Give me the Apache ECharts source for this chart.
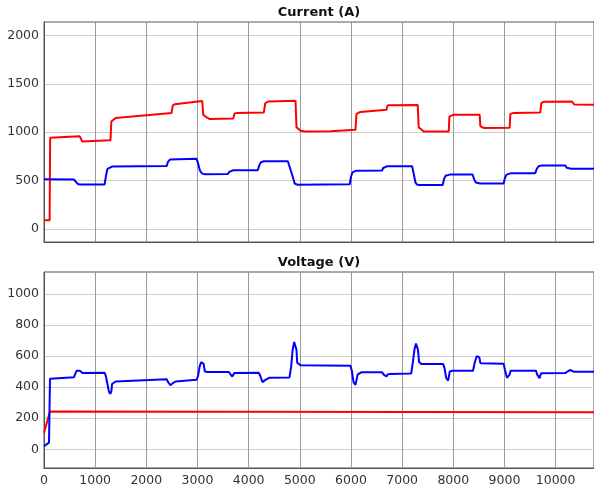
<!DOCTYPE html>
<html><head><meta charset="utf-8">
<script src="https://cdn.jsdelivr.net/npm/echarts@6/dist/echarts.min.js"></script>
<style>html,body{margin:0;padding:0;background:#fff}#c{width:594px;height:487px}</style>
</head><body><div id="c"></div>
<script>
const titles = ['Current (A)', 'Voltage (V)'];
const xTicks = [0,1000,2000,3000,4000,5000,6000,7000,8000,9000,10000];
const yTicksCurrent = [0,500,1000,1500,2000];
const yTicksVoltage = [0,200,400,600,800,1000];

// Current, red trace
const iRedT = [0,110,120,700,730,745,1300,1316,1340,1400,2494,2515,2560,3093,3113,3130,3190,3230,3699,3725,3780,4297,4324,4380,4916,4935,4950,5014,5100,5600,6088,6107,6185,6693,6718,6760,7304,7324,7340,7421,7910,7924,7996,8515,8529,8593,9101,9115,9180,9701,9720,9780,10320,10365,10750];
const iRedV = [90,90,942,958,952,905,917,1110,1130,1148,1200,1275,1290,1322,1180,1160,1150,1138,1142,1193,1200,1204,1300,1318,1325,1052,1040,1015,1008,1010,1025,1190,1210,1232,1279,1280,1282,1052,1040,1007,1008,1162,1180,1182,1062,1045,1047,1190,1200,1203,1304,1315,1318,1286,1284];
// Current, blue trace
const iBlueT = [0,586,620,660,700,1185,1215,1240,1270,1330,2397,2420,2461,2500,2982,3010,3050,3093,3150,3594,3620,3646,3700,4179,4210,4240,4265,4300,4766,4800,4850,4900,4950,5437,5976,6000,6030,6054,6100,6609,6630,6654,6700,7195,7230,7260,7293,7350,7792,7820,7850,7878,7930,8378,8410,8440,8464,8520,8984,9010,9040,9070,9120,9603,9630,9667,9720,10189,10220,10253,10300,10750];
const iBlueV = [515,512,490,465,460,460,560,620,635,645,650,690,717,722,725,680,600,572,566,568,590,603,607,608,660,690,697,700,700,680,560,470,458,460,462,540,585,596,603,605,630,645,648,648,560,480,458,455,455,520,550,558,562,562,510,480,472,470,470,530,562,570,575,577,620,648,655,655,632,623,622,622];

// Voltage, red trace
const vRedT = [0,117,10750];
const vRedV = [106,244,238];
// Voltage, blue trace
const vBlueT = [0,98,110,117,586,610,640,670,700,720,760,1185,1210,1240,1270,1300,1320,1330,1345,1400,2397,2430,2470,2500,2530,2572,2982,3010,3040,3070,3105,3120,3144,3200,3613,3640,3679,3700,3720,4199,4230,4270,4297,4320,4340,4400,4798,4830,4860,4890,4916,4935,4949,4980,5020,5990,6020,6050,6088,6110,6130,6152,6200,6609,6640,6693,6720,6760,7176,7210,7240,7270,7293,7310,7330,7370,7800,7830,7860,7898,7910,7930,7980,8386,8420,8460,8496,8510,8530,8560,8984,9010,9050,9082,9100,9120,9617,9640,9687,9700,9720,10189,10230,10287,10320,10360,10750];
const vBlueV = [21,43,300,453,464,485,505,512,505,493,490,492,470,420,370,357,380,420,432,436,450,430,412,410,428,436,447,470,530,560,570,550,500,497,497,485,468,475,490,492,470,432,425,445,457,460,462,530,640,690,702,640,557,545,540,538,500,430,415,420,480,489,495,495,480,468,482,485,487,560,640,680,691,640,563,549,549,520,460,442,460,500,505,505,560,600,612,590,553,550,550,510,460,451,480,505,505,480,457,475,489,490,500,510,503,498,498];

const zip = (t, v) => t.map((x, i) => [x, v[i]]);

const font = 'DejaVu Sans';
const labelStyle = { color: '#333', fontSize: 12.5, fontFamily: font, formatter: v => String(v) };
const gridCommon = { left: 44, width: 550, show: true, borderColor: '#555', borderWidth: 1, backgroundColor: '#fff' };

function xAxis(gridIndex, showLabels) {
  return {
    type: 'value', gridIndex, min: 0, max: 10750,
    axisLine: { show: true, onZero: false, lineStyle: { color: '#555', width: 1 } },
    axisTick: { show: false, customValues: xTicks },
    axisLabel: { show: showLabels, customValues: xTicks, margin: 6, ...labelStyle },
    splitLine: { show: true, lineStyle: { color: '#9a9a9a', width: 1 } }
  };
}
function yAxis(gridIndex, min, max, ticks) {
  return {
    type: 'value', gridIndex, min, max,
    axisLine: { show: true, lineStyle: { color: '#555', width: 1 } },
    axisTick: { show: false, customValues: ticks },
    axisLabel: { customValues: ticks, margin: 5, ...labelStyle },
    splitLine: { show: true, lineStyle: { color: '#cdcdcd', width: 1 } }
  };
}
function line(name, xi, data, color) {
  return { name, type: 'line', xAxisIndex: xi, yAxisIndex: xi, data, showSymbol: false, symbol: 'none',
    animation: false, lineStyle: { color, width: 2 }, itemStyle: { color } };
}

const chart = echarts.init(document.getElementById('c'), null, { renderer: 'canvas' });
chart.setOption({
  animation: false,
  backgroundColor: '#fff',
  title: [
    { text: titles[0], left: 319, top: 6, textAlign: 'center', padding: 0,
      textStyle: { fontFamily: font, fontWeight: 'bold', fontSize: 13, color: '#111' } },
    { text: titles[1], left: 319, top: 256, textAlign: 'center', padding: 0,
      textStyle: { fontFamily: font, fontWeight: 'bold', fontSize: 13, color: '#111' } }
  ],
  grid: [
    { ...gridCommon, top: 22, height: 220 },
    { ...gridCommon, top: 272, height: 197 }
  ],
  xAxis: [xAxis(0, false), xAxis(1, true)],
  yAxis: [yAxis(0, -135, 2140, yTicksCurrent), yAxis(1, -120, 1140, yTicksVoltage)],
  series: [
    line('Current A', 0, zip(iRedT, iRedV), '#ff0000'),
    line('Current B', 0, zip(iBlueT, iBlueV), '#0000ff'),
    line('Voltage A', 1, zip(vRedT, vRedV), '#ff0000'),
    line('Voltage B', 1, zip(vBlueT, vBlueV), '#0000ff')
  ]
});
</script>
</body></html>
